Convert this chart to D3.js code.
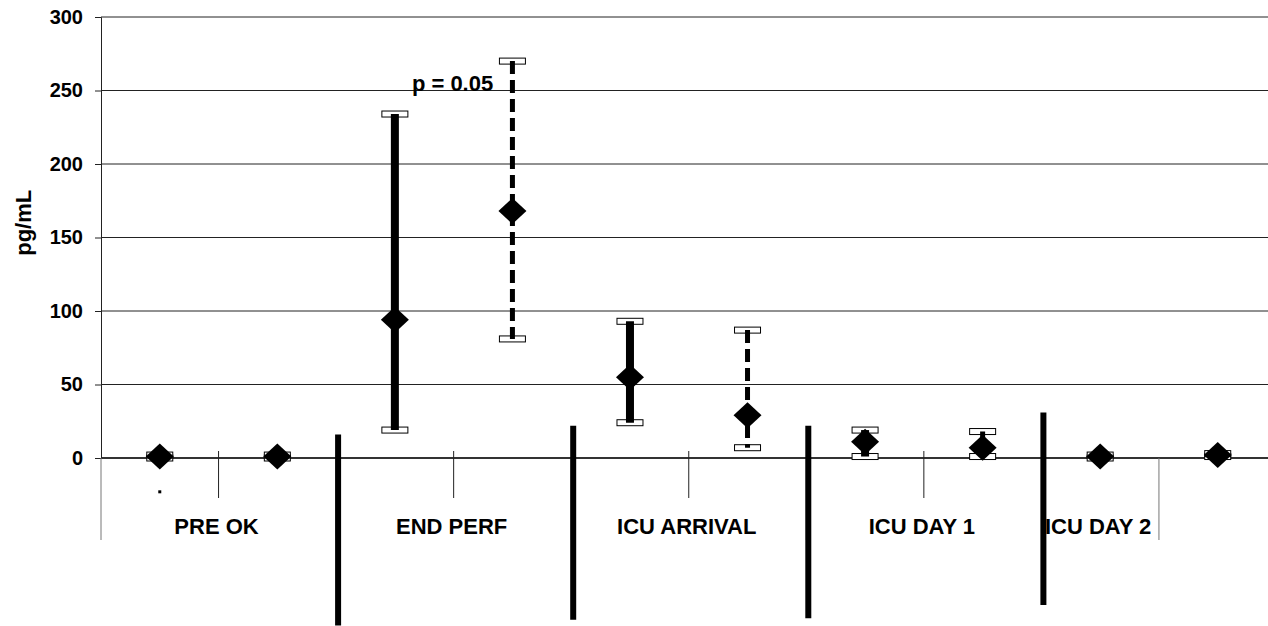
<!DOCTYPE html>
<html>
<head>
<meta charset="utf-8">
<script src="https://cdn.jsdelivr.net/npm/d3@7"></script>
<style>
  body { margin: 0; background: #fff; }
  text { font-family: "Liberation Sans", Arial, sans-serif; font-weight: bold; fill: #000; }
</style>
</head>
<body>
<div id="chart"></div>
<script>
// groups on the category axis, two inner slots each
const groups = ['PRE OK', 'END PERF', 'ICU ARRIVAL', 'ICU DAY 1', 'ICU DAY 2'];
// slot range of each group label (last group is cut by the chart edge)
const groupSpan = [[0, 2], [2, 4], [4, 6], [6, 8], [8, 9]];

// series A (solid error bars), first slot of each group
const meanA = [1, 94, 55, 11, 1];
const lowA = [0, 19, 24, 1, 0];
const highA = [2, 234, 93, 19, 2];

// series B (dashed error bars), second slot of each group
const meanB = [1, 168, 29, 7, 2];
const lowB = [0, 81, 7, 1, 1];
const highB = [2, 270, 87, 18, 3];

const yTicks = [0, 50, 100, 150, 200, 250, 300];

// hand drawn separators: slot boundary, top and bottom in pg/mL
const sepSlot = [2, 4, 6, 8];
const sepTop = [16, 22, 22, 31];
const sepBottom = [-114, -110, -109, -100];

const width = 1268;
const height = 626;
const left = 101;
const slotW = 117.55;

const svg = d3.select('#chart')
  .append('svg')
  .attr('width', width)
  .attr('height', height);

// slot scale: slot index -> pixel
const x = d3.scaleLinear()
  .domain([0, 10])
  .range([left, left + 10 * slotW]);

const y = d3.scaleLinear()
  .domain([0, 300])
  .range([458, 17]);

// gridlines
svg.selectAll('.grid')
  .data(yTicks)
  .enter()
  .append('line')
  .attr('x1', left)
  .attr('x2', width)
  .attr('y1', d => y(d))
  .attr('y2', d => y(d))
  .attr('stroke', d => d === 0 ? '#333' : '#222')
  .attr('stroke-width', d => d === 0 ? 2 : 1);

// y axis
const yAxis = d3.axisLeft(y)
  .tickValues(yTicks)
  .tickSize(6)
  .tickPadding(12);

const yg = svg.append('g')
  .attr('transform', `translate(${left},0)`)
  .call(yAxis);
yg.select('.domain').attr('stroke', '#222');
yg.selectAll('.tick line').attr('stroke', '#222');
yg.selectAll('.tick text')
  .style('font-size', '20px')
  .style('font-family', '"Liberation Sans", Arial, sans-serif')
  .style('font-weight', 'bold')
  .attr('fill', '#000');

// category boundary lines under the axis
const longBounds = [0, 2, 4, 6, 8, 9];
const shortBounds = [1, 3, 5, 7];

svg.selectAll('.longb')
  .data(longBounds)
  .enter()
  .append('line')
  .attr('x1', d => x(d))
  .attr('x2', d => x(d))
  .attr('y1', y(0))
  .attr('y2', 540)
  .attr('stroke', '#777')
  .attr('stroke-width', 1);

svg.selectAll('.shortb')
  .data(shortBounds)
  .enter()
  .append('line')
  .attr('x1', d => x(d))
  .attr('x2', d => x(d))
  .attr('y1', y(0) - 7)
  .attr('y2', 498)
  .attr('stroke', '#222')
  .attr('stroke-width', 1);

// group labels
svg.selectAll('.glabel')
  .data(groups)
  .enter()
  .append('text')
  .attr('x', (d, i) => x((groupSpan[i][0] + groupSpan[i][1]) / 2) - 2)
  .attr('y', 534)
  .attr('text-anchor', 'middle')
  .style('font-size', '22px')
  .text(d => d);

// y label
svg.append('text')
  .attr('transform', `translate(31, ${y(160)}) rotate(-90)`)
  .attr('text-anchor', 'middle')
  .style('font-size', '22px')
  .text('pg/mL');

// error bars
function drawSeries(mean, low, high, offset, lineW, dash) {
  const g = svg.append('g');
  const cx = i => x(2 * i + offset + 0.5);

  // caps
  [low, high].forEach(arr => {
    g.selectAll(null)
      .data(arr)
      .enter()
      .append('rect')
      .attr('x', (d, i) => cx(i) - 13)
      .attr('y', d => y(d) - 3)
      .attr('width', 26)
      .attr('height', 6)
      .attr('fill', '#fff')
      .attr('stroke', '#000')
      .attr('stroke-width', 1);
  });

  g.selectAll(null)
    .data(mean)
    .enter()
    .append('line')
    .attr('x1', (d, i) => cx(i))
    .attr('x2', (d, i) => cx(i))
    .attr('y1', (d, i) => y(high[i]))
    .attr('y2', (d, i) => y(low[i]))
    .attr('stroke', '#000')
    .attr('stroke-width', lineW)
    .attr('stroke-dasharray', dash);

  g.selectAll(null)
    .data(mean)
    .enter()
    .append('path')
    .attr('d', (d, i) => {
      const px = cx(i), py = y(d);
      return `M${px},${py - 13}L${px + 14},${py}L${px},${py + 13}L${px - 14},${py}Z`;
    })
    .attr('fill', '#000');
}

drawSeries(meanA, lowA, highA, 0, 8, null);
drawSeries(meanB, lowB, highB, 1, 5, '13,6');

// thick separators
svg.selectAll('.sep')
  .data(sepSlot)
  .enter()
  .append('line')
  .attr('x1', d => x(d) + 2)
  .attr('x2', d => x(d) + 2)
  .attr('y1', (d, i) => y(sepTop[i]))
  .attr('y2', (d, i) => y(sepBottom[i]))
  .attr('stroke', '#000')
  .attr('stroke-width', 6);

// stray dot under PRE OK
svg.append('rect')
  .attr('x', x(0.5) - 1.5)
  .attr('y', y(-23) - 1.5)
  .attr('width', 3)
  .attr('height', 3)
  .attr('fill', '#000');

// significance note
svg.append('text')
  .attr('x', x(2.5) + 17)
  .attr('y', y(250))
  .style('font-size', '22px')
  .text('p = 0.05');
</script>
</body>
</html>
